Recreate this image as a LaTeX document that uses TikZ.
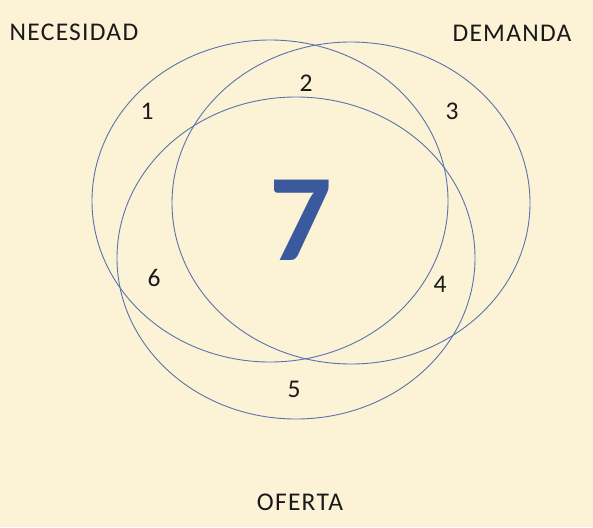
\documentclass[tikz,border=0pt]{standalone}
\usepackage{fontspec}
\setmainfont{Carlito}
\usepackage{tikz}
\definecolor{cream}{HTML}{FCF2D6}
\definecolor{ringblue}{HTML}{5A74AC}
\definecolor{sevenblue}{HTML}{3B5A9E}
\definecolor{ink}{HTML}{1A1A1A}

\begin{document}
\begin{tikzpicture}[x=1pt, y=-1pt, line width=0.9pt]

\fill[cream] (0,0) rectangle (593,527);
\useasboundingbox (0,0) rectangle (593,527);

\tikzstyle{every node}=[inner sep=0pt, text=ink, font=\addfontfeature{LetterSpace=5}\fontsize{25.5}{30}\selectfont]
\tikzstyle{ring}=[draw=ringblue]

% the three sets
\draw[ring] (270,201) ellipse (178 and 161);
\draw[ring] (351,203) ellipse (179 and 161);
\draw[ring] (296,258) ellipse (179 and 161);

% set names
\draw     (74, 32)  node (nec) {NECESIDAD}
          (512, 33) node (dem) {DEMANDA}
          (300, 502) node (ofe) {OFERTA};

% regions
\draw     (147, 111) node (r1) {1}
          (306, 83)  node (r2) {2}
          (452, 111) node (r3) {3}
          (440, 284) node (r4) {4}
          (294, 389) node (r5) {5}
          (154, 278) node (r6) {6};
\draw     (301, 220) node[text=sevenblue, font=\fontsize{124}{130}\bfseries\selectfont] (r7) {7};

\end{tikzpicture}
\end{document}
